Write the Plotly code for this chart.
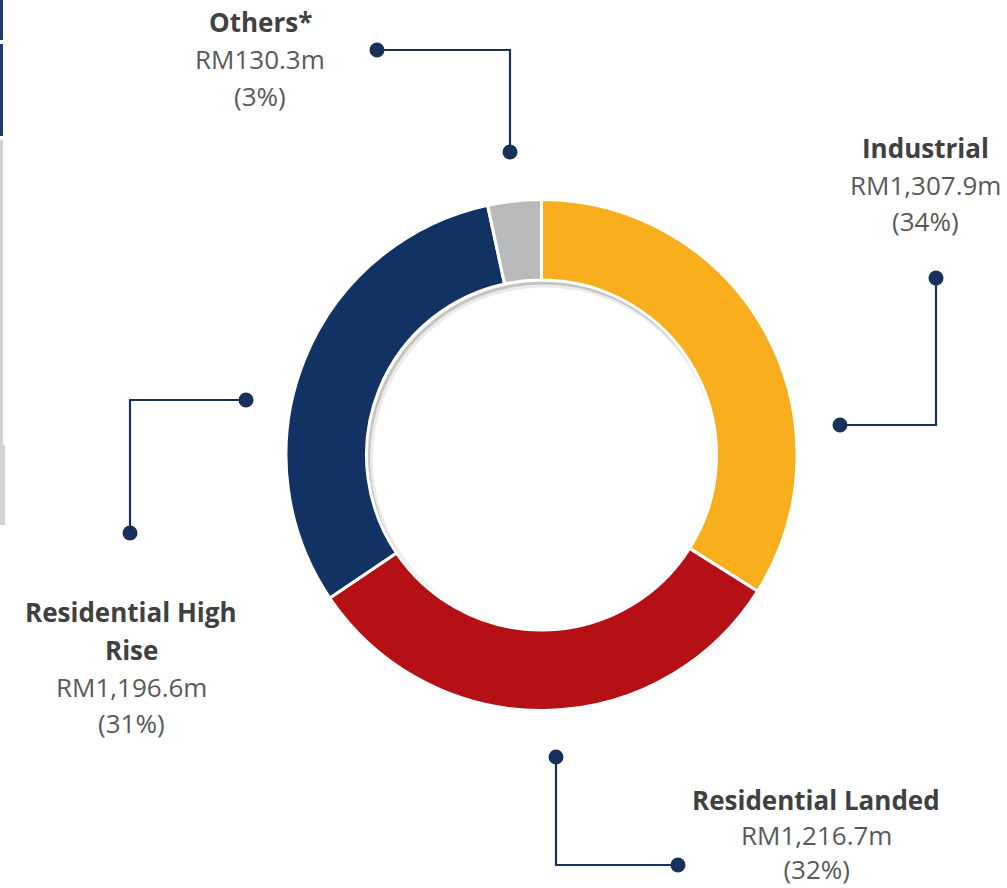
import plotly.graph_objects as go

W, H = 1007, 888

# ---- data ----
segments = ["Industrial", "Residential Landed", "Residential High Rise", "Others*"]
values_rm_m = [1307.9, 1216.7, 1196.6, 130.3]
value_labels = ["RM1,307.9m", "RM1,216.7m", "RM1,196.6m", "RM130.3m"]
pct_labels = ["(34%)", "(32%)", "(31%)", "(3%)"]
title_labels = ["Industrial", "Residential Landed", "Residential High<br>Rise", "Others*"]
colors = ["#F9AE1E", "#B51016", "#133264", "#B9BABC"]

# ---- layout helpers (pixel -> paper) ----
def px(x):
    return x / W

def py(y):
    return 1 - y / H

CX, CY, R = 541.5, 455, 255.5
HOLE = 0.685

fig = go.Figure()
fig.add_trace(go.Pie(
    labels=segments, values=values_rm_m, sort=False, direction="clockwise",
    rotation=0, hole=HOLE, textinfo="none", hoverinfo="label+value+percent",
    marker=dict(colors=colors, line=dict(color="white", width=3)),
    domain=dict(x=[px(CX - R), px(CX + R)], y=[py(CY + R), py(CY - R)]),
    showlegend=False,
))

shapes = []
annotations = []

# inner shadow of the ring (visible inside the hole)
rin = R * HOLE
for off, op, lw in [(3, 0.08, 7), (2, 0.16, 3)]:
    shapes.append(dict(type="circle", xref="paper", yref="paper", layer="below",
                       x0=px(CX - rin + off), x1=px(CX + rin + off),
                       y0=py(CY + rin + off + 1), y1=py(CY - rin + off + 1),
                       line=dict(color=f"rgba(0,0,0,{op})", width=lw)))

# leader lines: (label index, polyline points in px)
leaders = {
    3: [(377, 50), (510, 50), (510, 152)],
    0: [(936, 278), (936, 425), (840, 425)],
    2: [(246, 400), (130, 400), (130, 533)],
    1: [(556, 757), (556, 865), (678, 865)],
}
LC = "#18305A"
for idx, pts in leaders.items():
    path = "M " + " L ".join(f"{px(x)},{py(y)}" for x, y in pts)
    shapes.append(dict(type="path", xref="paper", yref="paper", path=path,
                       line=dict(color=LC, width=2.2)))
    for (x, y) in (pts[0], pts[-1]):
        r = 7.5
        shapes.append(dict(type="circle", xref="paper", yref="paper",
                           x0=px(x - r), x1=px(x + r), y0=py(y + r), y1=py(y - r),
                           fillcolor=LC, line=dict(color=LC, width=0)))

FONT = "Open Sans, sans-serif"

def add_text(x, y, text, color, bold=False):
    annotations.append(dict(x=px(x), y=py(y), xref="paper", yref="paper",
                            text=f"<b>{text}</b>" if bold else text, showarrow=False,
                            font=dict(family=FONT, size=26, color=color),
                            xanchor="center", yanchor="middle"))

# label blocks: (index, center x, y centers of title lines, y centers of value / pct)
label_pos = {
    3: (260, [22], [59, 96]),
    0: (925, [148], [185, 221]),
    2: (131, [612, 650], [687, 723]),
    1: (816, [800], None),
}
for idx, (x, ty, vy) in label_pos.items():
    for t, y in zip(title_labels[idx].split("<br>"), ty):
        add_text(x, y, t, "#404040", bold=True)
    if vy is None:
        add_text(x, 852, f"{value_labels[idx]}<br>{pct_labels[idx]}", "#595959")
    else:
        add_text(x, vy[0], value_labels[idx], "#595959")
        add_text(x, vy[1], pct_labels[idx], "#595959")

# slide-edge remnants on the left border
for (x0, x1, y0, y1, c) in [(0, 3, 0, 40, "#1F3B73"), (0, 3, 44, 136, "#1F3B73"),
                            (0, 3, 140, 445, "#D0D0D0"), (0, 5, 445, 525, "#D3D3D3")]:
    shapes.append(dict(type="rect", xref="paper", yref="paper",
                       x0=px(x0), x1=px(x1), y0=py(y1), y1=py(y0),
                       fillcolor=c, line=dict(width=0)))

fig.update_layout(
    width=W, height=H, margin=dict(l=0, r=0, t=0, b=0),
    paper_bgcolor="white", plot_bgcolor="white",
    shapes=shapes, annotations=annotations,
)
fig.write_html("out.html", config={"displayModeBar": False},
               post_script="document.body.style.margin='0';document.body.style.overflow='hidden';")
